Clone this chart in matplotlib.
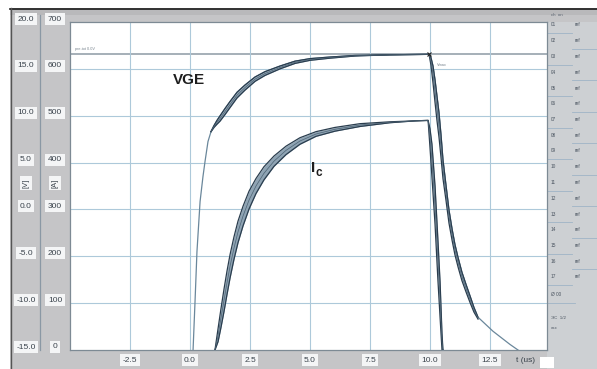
import numpy as np
import matplotlib
matplotlib.use('Agg')
import matplotlib.pyplot as plt
from matplotlib.patches import Rectangle

plt.rcParams['font.family'] = ['Liberation Sans', 'DejaVu Sans']

# gate voltage traces, time in us, voltage in V (upper / lower edge of the trace bundle)
t_vge = [0.125, 0.21, 0.29, 0.42, 0.54, 0.625, 0.75, 0.875, 1.0, 1.125, 1.25, 1.46, 1.67,
         1.96, 2.29, 2.71, 3.125, 3.75, 4.375, 5.0, 5.83, 6.875, 8.33, 9.96,
         10.04, 10.125, 10.21, 10.29, 10.375, 10.46, 10.54, 10.67, 10.79, 10.92, 11.04,
         11.17, 11.33, 11.5, 11.67, 11.83, 12.0, 12.625, 13.33, 13.75]
vge_upper = [-15.15, -9.8, -4.5, 0.85, 3.5, 5.1, 7.25, 8.3, 8.95, 9.5, 9.98, 10.77, 11.52,
             12.5, 13.27, 14.13, 14.7, 15.3, 15.82, 16.09, 16.26, 16.43, 16.5, 16.55,
             16.2, 15.3, 13.8, 12.1, 10.3, 7.9, 5.3, 2.5, -0.05, -2.1, -3.75,
             -5.15, -6.7, -8.0, -9.25, -10.45, -11.5, -13.0, -14.4, -15.15]
vge_lower = [-15.15, -9.8, -4.5, 0.85, 3.5, 5.1, 7.25, 8.3, 8.75, 9.1, 9.42, 10.13, 10.88,
             11.9, 12.73, 13.67, 14.3, 15.0, 15.58, 15.91, 16.14, 16.37, 16.5, 16.55,
             15.4, 13.5, 11.4, 9.5, 7.7, 5.5, 3.3, 0.9, -1.45, -3.3, -4.85,
             -6.15, -7.6, -8.8, -9.95, -10.95, -11.7, -13.0, -14.4, -15.15]

# collector current traces, A
t_ic = [1.04, 1.17, 1.29, 1.42, 1.54, 1.67, 1.83, 2.0, 2.21, 2.46, 2.75, 3.08, 3.5, 4.0,
        4.58, 5.25, 6.04, 7.08, 8.33, 9.375, 9.92, 10.0, 10.08, 10.21, 10.33, 10.42,
        10.5, 10.54]
ic_upper = [0, 46, 88, 131, 168, 204, 241, 275, 307, 339, 366, 391, 414, 435,
            453, 466, 475, 483, 487, 489, 490, 472, 440, 350, 235, 145,
            35, 0]
ic_lower = [0, 18, 48, 83, 118, 154, 193, 229, 265, 301, 334, 363, 392, 417,
            439, 456, 467, 477, 485, 489, 490, 432, 370, 268, 149, 69,
            0, 0]

vge_ticks = [20.0, 15.0, 10.0, 5.0, 0.0, -5.0, -10.0, -15.0]
ic_ticks = [700, 600, 500, 400, 300, 200, 100, 0]
t_ticks = [-2.5, 0.0, 2.5, 5.0, 7.5, 10.0, 12.5]
vge_cursor = 16.55

W, H = 597, 369
fig = plt.figure(figsize=(W / 100, H / 100), dpi=100)
fig.patch.set_facecolor('white')

# window chrome drawn in pixel coordinates
bg = fig.add_axes([0, 0, 1, 1])
bg.set_xlim(0, W)
bg.set_ylim(H, 0)
bg.axis('off')
bg.add_patch(Rectangle((10, 8), W - 10, H - 8, fc='#c5c5c7', ec='none'))
bg.add_patch(Rectangle((10, 9), W - 10, 6, fc='#b9b9bb', ec='none'))
bg.add_patch(Rectangle((547, 22), 50, 347, fc='#cdd0d3', ec='none'))
bg.plot([10, W], [8.5, 8.5], color='#1a1a1a', lw=1.2)
bg.plot([10.5, 10.5], [8, H], color='#555555', lw=1.0)
bg.plot([40, 40], [15, 350], color='#8a98a4', lw=0.9)
bg.add_patch(Rectangle((540, 357), 14, 11, fc='white', ec='none'))

# side panel rows
bg.text(551, 15, 'ch  on', fontsize=3.2, color='#5a6470', va='center')
for i in range(17):
    y = 25 + 15.75 * i
    bg.text(551, y, '%02d' % (i + 1), fontsize=3.4, color='#4a5460', va='center')
    bg.text(575, y, 'ref', fontsize=3.4, color='#4a5460', va='center')
    if i % 2 == 0:
        bg.plot([547, 572], [y + 8, y + 8], color='#9fb4c6', lw=0.6)
    else:
        bg.plot([572, 597], [y + 8, y + 8], color='#9fb4c6', lw=0.6)
bg.text(551, 295, 'Ø 00', fontsize=3.4, color='#4a5460', va='center')
bg.plot([547, 575], [303, 303], color='#9fb4c6', lw=0.6)
bg.text(551, 318, 'ЭС  1/2', fontsize=3.2, color='#4a5460', va='center')
bg.text(551, 328, 'xxx', fontsize=3.2, color='#4a5460', va='center')

ax = fig.add_axes([70 / W, 1 - 350 / H, 477 / W, 328 / H])
ax.set_xlim(-5, 14.875)
ax.set_ylim(-15, 20)
ax.set_facecolor('white')
ax.set_xticks(t_ticks)
ax.set_yticks(vge_ticks[1:-1])
ax.tick_params(length=0, labelbottom=False, labelleft=False)
ax.grid(color='#adc9da', lw=0.8)
for s in ax.spines.values():
    s.set_color('#7d8a94')
    s.set_linewidth(0.9)
ax.axhline(vge_cursor, color='#8d9aa4', lw=1.1, zorder=1)

edge = '#2a3d4e'
fill = '#8fa4b4'

tv = np.array(t_vge)
vu = np.array(vge_upper)
vl = np.array(vge_lower)
band = (tv >= 0.875) & (tv <= 12.0)
ax.plot(tv, vu, color='#6a879b', lw=0.9, zorder=3)
ax.fill_between(tv[band], vl[band], vu[band], color=fill, lw=0, zorder=3)
ax.plot(tv[band], vu[band], color=edge, lw=0.9, zorder=4)
ax.plot(tv[band], vl[band], color=edge, lw=0.9, zorder=4)
ax.plot(tv[band], (vu[band] + vl[band]) / 2, color='#4d6374', lw=0.5, zorder=4)
ax.plot([9.96], [vge_cursor], marker='x', ms=3, color='#222222', mew=0.8, zorder=5)

ax2 = ax.twinx()
ax2.set_ylim(0, 700)
ax2.set_axis_off()
ti = np.array(t_ic)
iu = np.array(ic_upper)
il = np.array(ic_lower)
ax2.fill_between(ti, il, iu, color=fill, lw=0, zorder=3)
ax2.plot(ti, iu, color=edge, lw=0.9, zorder=4)
ax2.plot(ti, il, color=edge, lw=0.9, zorder=4)
ax2.plot(ti, (iu + il) / 2, color='#4d6374', lw=0.5, zorder=4)

ax.text(-0.05, 13.8, 'VGE', fontsize=11, fontweight='bold', color='#1e1e1e',
        ha='center', va='center')
ax.text(5.2, 4.4, 'I', fontsize=11, fontweight='bold', color='#1e1e1e',
        ha='right', va='center')
ax.text(5.22, 3.9, 'c', fontsize=8.5, fontweight='bold', color='#1e1e1e',
        ha='left', va='center')
ax.text(-4.8, 17.1, 'pre-tot 0.0V', fontsize=2.8, color='#7a8690', va='center')
ax.text(10.3, 15.4, 'Vmax', fontsize=2.8, color='#7a8690', va='center')

box = dict(boxstyle='square,pad=0.3', fc='#f4f5f6', ec='none')
for v in vge_ticks:
    ax.annotate('%.1f' % v, xy=(0, v), xycoords=('axes fraction', 'data'),
                xytext=(-44, 3), textcoords='offset pixels', ha='center', va='center',
                fontsize=6, color='#3a434c', bbox=box, annotation_clip=False)
for c in ic_ticks:
    ax2.annotate('%d' % c, xy=(0, c), xycoords=('axes fraction', 'data'),
                 xytext=(-15, 3), textcoords='offset pixels', ha='center', va='center',
                 fontsize=6, color='#3a434c', bbox=box, annotation_clip=False)
ax.annotate('[V]', xy=(0, 2.8), xycoords=('axes fraction', 'data'), xytext=(-44, 0),
            textcoords='offset pixels', ha='center', va='center', rotation=90,
            fontsize=5.5, color='#3a434c', bbox=box, annotation_clip=False)
ax.annotate('[A]', xy=(0, 2.8), xycoords=('axes fraction', 'data'), xytext=(-15, 0),
            textcoords='offset pixels', ha='center', va='center', rotation=90,
            fontsize=5.5, color='#3a434c', bbox=box, annotation_clip=False)
for t in t_ticks:
    ax.annotate('%.1f' % t, xy=(t, 0), xycoords=('data', 'axes fraction'),
                xytext=(0, -10), textcoords='offset pixels', ha='center', va='center',
                fontsize=6, color='#3a434c', bbox=box, annotation_clip=False)
ax.annotate('t (us)', xy=(14.0, 0), xycoords=('data', 'axes fraction'),
            xytext=(0, -10), textcoords='offset pixels', ha='center', va='center',
            fontsize=6, color='#3a434c', annotation_clip=False)

fig.savefig('out.png', dpi=100)
